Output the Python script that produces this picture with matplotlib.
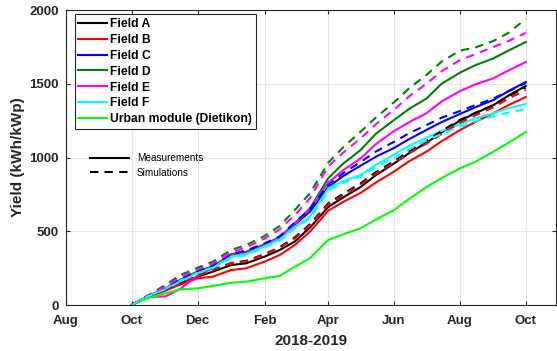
import pandas as pd
import matplotlib
matplotlib.use("Agg")
import matplotlib.pyplot as plt
import matplotlib.dates as mdates
from matplotlib.lines import Line2D

plt.rcParams["font.family"] = ["Liberation Sans", "DejaVu Sans"]

# half-monthly readings, Oct 2018 -> Oct 2019
dates = pd.to_datetime([
    "2018-10-01", "2018-10-15", "2018-11-01", "2018-11-15", "2018-12-01",
    "2018-12-15", "2019-01-01", "2019-01-15", "2019-02-01", "2019-02-15",
    "2019-03-01", "2019-03-15", "2019-04-01", "2019-04-15", "2019-05-01",
    "2019-05-15", "2019-06-01", "2019-06-15", "2019-07-01", "2019-07-15",
    "2019-08-01", "2019-08-15", "2019-09-01", "2019-09-15", "2019-10-01",
])

# measurements (kWh/kWp)
meas_a = [0, 55, 102, 147, 192, 226, 271, 283, 328, 373, 430, 525, 665, 730, 800, 880, 960, 1030, 1100, 1170, 1250, 1300, 1355, 1420, 1485]
meas_b = [0, 52, 97, 140, 181, 192, 237, 249, 294, 339, 407, 497, 640, 700, 760, 830, 905, 975, 1040, 1110, 1186, 1240, 1300, 1355, 1410]
meas_c = [0, 58, 113, 169, 226, 260, 335, 360, 407, 452, 545, 633, 800, 875, 945, 1005, 1065, 1125, 1187, 1240, 1295, 1340, 1390, 1450, 1512]
meas_d = [0, 55, 110, 170, 228, 262, 345, 360, 412, 460, 554, 655, 860, 960, 1051, 1160, 1255, 1330, 1400, 1500, 1575, 1625, 1672, 1725, 1783]
meas_e = [0, 55, 58, 110, 200, 250, 335, 350, 405, 455, 550, 650, 830, 915, 994, 1090, 1180, 1240, 1300, 1380, 1450, 1495, 1537, 1590, 1647]
meas_f = [0, 57, 110, 165, 220, 255, 328, 345, 398, 445, 530, 599, 791, 840, 881, 950, 1020, 1080, 1135, 1180, 1225, 1265, 1300, 1335, 1363]
meas_urban = [0, 45, 79, 106, 113, 129, 151, 158, 181, 197, 260, 317, 441, 480, 520, 580, 644, 720, 800, 860, 927, 970, 1040, 1100, 1173]

# simulations (kWh/kWp)
sim_a = [0, 57, 106, 155, 202, 238, 285, 300, 345, 392, 459, 548, 690, 755, 825, 900, 975, 1045, 1112, 1180, 1255, 1302, 1355, 1415, 1475]
sim_b = [0, 56, 104, 152, 200, 235, 282, 297, 342, 388, 452, 542, 682, 745, 815, 890, 965, 1030, 1095, 1160, 1235, 1285, 1340, 1400, 1458]
sim_c = [0, 60, 118, 175, 232, 268, 345, 370, 418, 465, 560, 650, 815, 895, 970, 1040, 1107, 1165, 1220, 1270, 1315, 1355, 1400, 1450, 1505]
sim_d = [0, 60, 136, 203, 253, 294, 373, 407, 468, 536, 644, 757, 965, 1070, 1175, 1270, 1375, 1470, 1560, 1650, 1725, 1745, 1790, 1845, 1940]
sim_e = [0, 58, 125, 190, 240, 280, 355, 392, 450, 513, 610, 723, 940, 1035, 1130, 1225, 1325, 1415, 1500, 1585, 1660, 1700, 1750, 1790, 1845]
sim_f = [0, 55, 108, 160, 215, 250, 320, 338, 390, 435, 520, 588, 775, 830, 870, 935, 995, 1055, 1115, 1160, 1210, 1245, 1280, 1305, 1329]

labels = ["Field A", "Field B", "Field C", "Field D", "Field E", "Field F",
          "Urban module (Dietikon)"]
colors = ["#000000", "#ff0000", "#0000ff", "#008000", "#ff00ff", "#00ffff", "#00ff00"]

meas = [meas_a, meas_b, meas_c, meas_d, meas_e, meas_f, meas_urban]
sims = [sim_a, sim_b, sim_c, sim_d, sim_e, sim_f]

fig = plt.figure(figsize=(5.57, 3.51), dpi=100)
ax = fig.add_axes([0.1185, 0.131, 0.8797, 0.8405])

handles = []
for y, c, lab in zip(meas, colors, labels):
    h, = ax.plot(dates, y, color=c, lw=1.5, label=lab)
    handles.append(h)
for y, c in zip(sims, colors):
    ax.plot(dates, y, color=c, lw=1.5, ls=(0, (4, 3)))

ax.set_xlim(pd.Timestamp("2018-08-01"), pd.Timestamp("2019-10-29"))
ax.set_ylim(0, 2000)
ax.set_yticks([0, 500, 1000, 1500, 2000])
ax.xaxis.set_major_locator(mdates.MonthLocator(bymonth=[2, 4, 6, 8, 10, 12]))
ax.xaxis.set_major_formatter(mdates.DateFormatter("%b"))

ax.grid(True, color="#e6e6e6", lw=0.8)
ax.set_axisbelow(True)
ax.tick_params(direction="in", length=3, width=0.8, colors="#262626",
               top=True, right=True, labelsize=9.5)
ax.tick_params(axis="x", pad=7)
ax.tick_params(axis="y", pad=5)
for lbl in ax.get_xticklabels() + ax.get_yticklabels():
    lbl.set_fontweight("bold")
for s in ax.spines.values():
    s.set_color("#262626")
    s.set_linewidth(0.8)

ax.set_xlabel("2018-2019", fontsize=11, fontweight="bold", color="#262626", labelpad=5)
ax.set_ylabel("Yield (kWh/kWp)", fontsize=11, fontweight="bold", color="#262626", labelpad=3)

leg1 = ax.legend(handles=handles, loc="upper left", bbox_to_anchor=(0.018, 0.985),
                 prop={"weight": "bold", "size": 8.7}, fancybox=False,
                 edgecolor="#262626", framealpha=1, handlelength=2.4,
                 handletextpad=0.25, labelspacing=0.32, borderpad=0.3,
                 borderaxespad=0)
leg1.get_frame().set_linewidth(0.8)
ax.add_artist(leg1)

style_handles = [Line2D([], [], color="black", lw=1.5),
                 Line2D([], [], color="black", lw=1.5, ls=(0, (4, 3)))]
ax.legend(style_handles, ["Measurements", "Simulations"], loc="upper left",
          bbox_to_anchor=(0.03, 0.545), frameon=False, prop={"size": 7.2},
          handlelength=3.9, handletextpad=0.8, labelspacing=0.45)

fig.savefig("out.png", dpi=100)
